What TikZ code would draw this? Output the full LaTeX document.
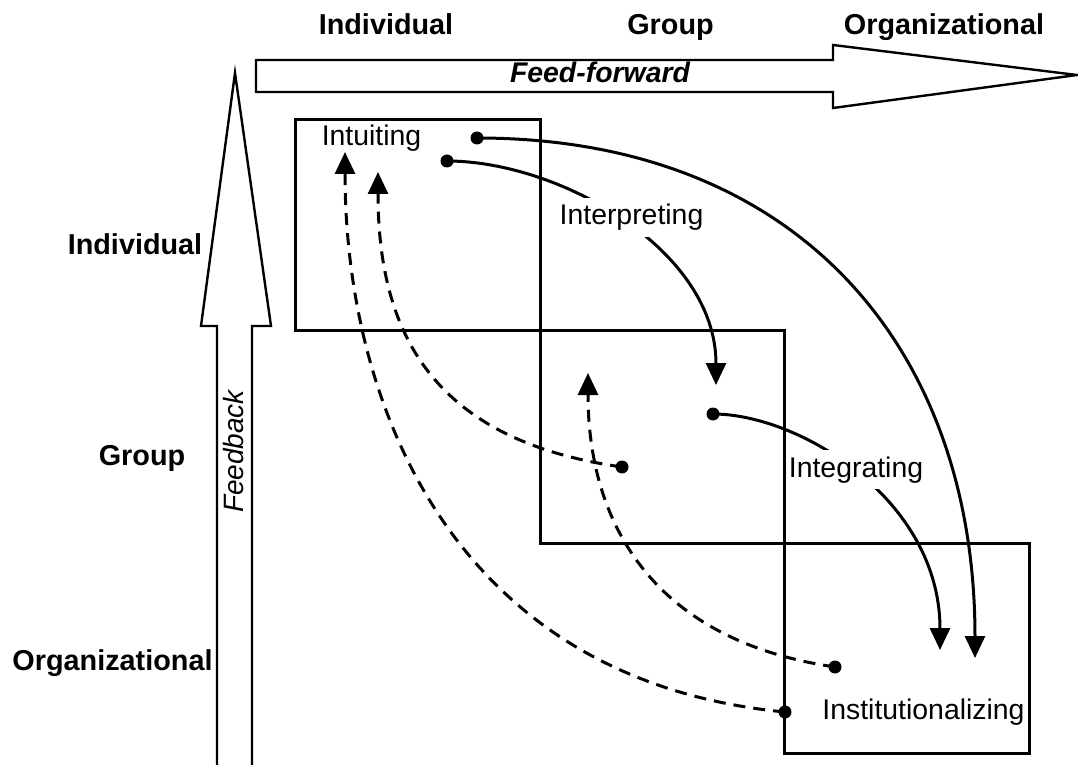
\documentclass[tikz,border=0pt]{standalone}
\usepackage{fontspec}
\setmainfont{Liberation Sans}
\usetikzlibrary{arrows.meta,calc}

\begin{document}
\begin{tikzpicture}[x=0.5pt,y=-0.5pt]
		\tikzstyle{every node}=[font=\fontsize{14.2}{17}\selectfont]
		\tikzset{
			lvl/.style={font=\fontsize{14.4}{17}\selectfont\bfseries, anchor=base, inner sep=0pt},
			stage/.style={anchor=base, inner xsep=1pt, inner ysep=3pt, fill=white},
			dot/.style={circle, fill=black, inner sep=0pt, minimum size=6.5pt},
			flow/.style={line width=1.5pt, -{Triangle[length=11pt,width=10pt]}},
			back/.style={flow, dash pattern=on 6pt off 4pt}
		}
		\useasboundingbox (0,0) rectangle (1078,765);
		% big arrows
		\draw [line width=1.2pt] (256,60) -- (833,60) -- (833,45) -- (1077,75) -- (833,108) -- (833,92) -- (256,92) -- cycle;
		\draw [line width=1.2pt] (217,770) -- (217,326) -- (201,326) -- (235,73) -- (271,326) -- (252,326) -- (252,770);
		\node [font=\fontsize{14.2}{17}\selectfont\bfseries\itshape, anchor=base, inner sep=0pt] (ff) at (600,83) {Feed-forward};
		\node [font=\fontsize{14}{17}\selectfont\itshape, anchor=base, inner sep=0pt, rotate=90] (fb) at (243,451.5) {Feedback};
		% level labels
		\node [lvl] (tind) at (386,35) {Individual};
		\node [lvl] (tgrp) at (670.5,35) {Group};
		\node [lvl] (torg) at (944,35) {Organizational};
		\node [lvl] (lind) at (135,255) {Individual};
		\node [lvl] (lgrp) at (142,465) {Group};
		\node [lvl] (lorg) at (112.5,670) {Organizational};
		% dots and tips
		\node [dot] (d1) at (477,138) {};
		\node [dot] (d2) at (447,161) {};
		\node [dot] (d3) at (713,414) {};
		\node [dot] (d4) at (785,712) {};
		\node [dot] (d5) at (835,667) {};
		\node [dot] (d6) at (622,467) {};
		\coordinate (t1) at (975,658);
		\coordinate (t2) at (716,385);
		\coordinate (t3) at (940,650);
		\coordinate (t4) at (345,152);
		\coordinate (t5) at (588,373);
		\coordinate (t6) at (378,172);
		% feed-forward flows
		\draw [flow] (d1.center) .. controls (800,138) and (975,350) .. (t1);
		\draw [flow] (d2.center) .. controls (560,161) and (716,250) .. (t2);
		\draw [flow] (d3.center) .. controls (800,414) and (940,500) .. (t3);
		% feedback flows
		\draw [back] (d4.center) .. controls (450,680) and (345,400) .. (t4);
		\draw [back] (d5.center) .. controls (650,640) and (588,520) .. (t5);
		\draw [back] (d6.center) .. controls (430,440) and (378,330) .. (t6);
		% stages
		\node [anchor=base, inner sep=0pt] (intu) at (371.5,146) {Intuiting};
		\node [stage] (intp) at (631.5,225) {Interpreting};
		\node [stage] (intg) at (856,477) {Integrating};
		\node [anchor=base, inner sep=0pt] (inst) at (923.5,719) {Institutionalizing};
		% level boxes
		\draw [line width=1.5pt] (295,120) rectangle (540,331);
		\draw [line width=1.5pt] (540,331) rectangle (784,543);
		\draw [line width=1.5pt] (784,543) rectangle (1029,753);
	\end{tikzpicture}
\end{document}
